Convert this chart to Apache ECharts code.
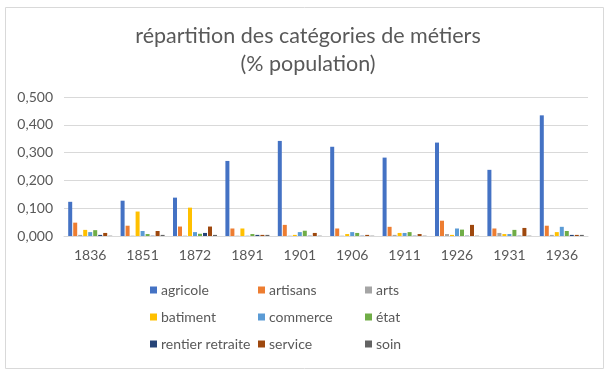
<!DOCTYPE html>
<html>
<head>
<meta charset="utf-8">
<script src="https://cdn.jsdelivr.net/npm/echarts@6/dist/echarts.min.js"></script>
<style>
  html, body { margin: 0; padding: 0; background: #fff; }
  #main { width: 616px; height: 376px; }
</style>
</head>
<body>
<div id="main"></div>
<script>
var annees = ['1836', '1851', '1872', '1891', '1901', '1906', '1911', '1926', '1931', '1936'];

var agricole = [0.123, 0.127, 0.138, 0.270, 0.342, 0.321, 0.282, 0.336, 0.238, 0.434];
var artisans = [0.048, 0.037, 0.034, 0.027, 0.040, 0.027, 0.033, 0.055, 0.027, 0.037];
var arts = [0.004, 0.001, 0.001, 0.001, 0.001, 0.001, 0.004, 0.007, 0.011, 0.004];
var batiment = [0.022, 0.088, 0.102, 0.027, 0.004, 0.007, 0.011, 0.004, 0.007, 0.014];
var commerce = [0.014, 0.018, 0.014, 0.001, 0.014, 0.014, 0.011, 0.027, 0.007, 0.033];
var etat = [0.021, 0.007, 0.008, 0.007, 0.019, 0.011, 0.014, 0.023, 0.022, 0.018];
var rentier = [0.004, 0.001, 0.011, 0.004, 0.001, 0.001, 0.001, 0.001, 0.001, 0.004];
var service = [0.011, 0.018, 0.034, 0.004, 0.011, 0.004, 0.007, 0.040, 0.029, 0.004];
var soin = [0.001, 0.004, 0.004, 0.004, 0.001, 0.001, 0.001, 0.001, 0.001, 0.004];

var noms = ['agricole', 'artisans', 'arts', 'batiment', 'commerce', 'état', 'rentier retraite', 'service', 'soin'];
var valeurs = [agricole, artisans, arts, batiment, commerce, etat, rentier, service, soin];
var couleurs = ['#4472C4', '#ED7D31', '#A5A5A5', '#FFC000', '#5B9BD5', '#70AD47', '#264478', '#9E480E', '#636363'];

var police = 'Lato, "Open Sans", sans-serif';

var series = noms.map(function (nom, i) {
  return {
    name: nom,
    type: 'bar',
    barWidth: 4,
    barGap: '25%',
    itemStyle: { color: couleurs[i] },
    data: valeurs[i]
  };
});

function legende(left, items) {
  return {
    orient: 'vertical',
    left: left,
    top: 278,
    itemGap: 13,
    itemWidth: 7,
    itemHeight: 7,
    icon: 'rect',
    selectedMode: false,
    data: items,
    textStyle: { color: '#595959', fontSize: 14, fontFamily: police, padding: [0, 0, 0, -1] }
  };
}

var chart = echarts.init(document.getElementById('main'));
chart.setOption({
  animation: false,
  textStyle: { fontFamily: police },
  graphic: [{
    type: 'rect',
    shape: { x: 5.5, y: 7.5, width: 598, height: 361 },
    style: { fill: 'none', stroke: '#D9D9D9', lineWidth: 1 },
    silent: true
  }],
  title: {
    text: 'répartition des catégories de métiers\n(% population)',
    left: 'center',
    top: 17,
    textStyle: { color: '#595959', fontSize: 21.5, fontWeight: 'normal', fontFamily: police, lineHeight: 28 }
  },
  legend: [
    legende(145, ['agricole', 'batiment', 'rentier retraite']),
    legende(253, ['artisans', 'commerce', 'service']),
    legende(360, ['arts', 'état', 'soin'])
  ],
  grid: { left: 64, right: 28, top: 97, bottom: 140 },
  xAxis: {
    type: 'category',
    data: annees,
    axisTick: { show: false },
    axisLine: { lineStyle: { color: '#D9D9D9' } },
    axisLabel: { color: '#595959', fontSize: 14, margin: 12 }
  },
  yAxis: {
    type: 'value',
    min: 0,
    max: 0.5,
    interval: 0.1,
    axisLine: { show: false },
    axisTick: { show: false },
    splitLine: { lineStyle: { color: '#D9D9D9' } },
    axisLabel: {
      color: '#595959',
      fontSize: 14,
      margin: 11,
      formatter: function (v) { return v.toFixed(3).replace('.', ','); }
    }
  },
  series: series
});
</script>
</body>
</html>
